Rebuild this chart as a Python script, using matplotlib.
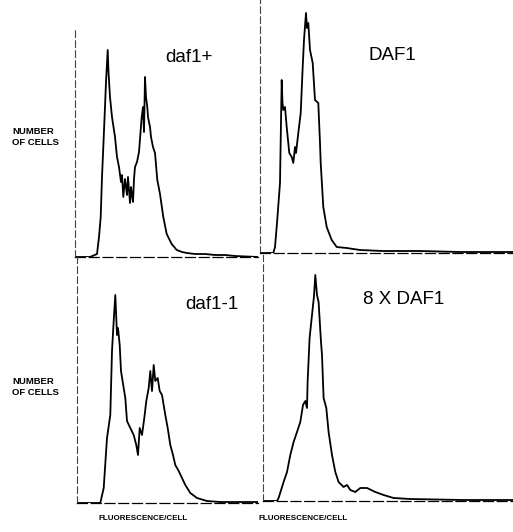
# Flow cytometry histograms: DNA content per cell for four strains

import numpy as np
import matplotlib.pyplot as plt

plt.rcParams['font.family'] = ['Liberation Sans', 'DejaVu Sans']

# channel / number of cells
daf1p_ch = [0, 15, 22, 24, 25.7, 27, 28.3, 30, 31, 32.7, 33.5, 35, 37, 38.5, 40, 42, 44,
            46, 47, 48.3, 50, 51, 52, 53, 55, 56, 57, 58, 59, 60, 62, 64, 65, 66.7,
            68, 69, 70, 71, 72.3, 73, 74, 75, 76, 78, 80, 82.3, 85, 88.3, 91.7, 96.7,
            101.7, 107, 112, 120, 130, 140, 150, 160, 183]
daf1p_n = [0, 0, 3, 20, 40, 80, 110, 150, 175, 207, 185, 160, 140, 130, 120, 100, 90,
           75, 82, 60, 78, 70, 62, 80, 54, 70, 62, 55, 78, 90, 95, 105, 118, 140,
           150, 125, 180, 160, 150, 140, 135, 130, 120, 110, 104, 77, 63, 40, 23, 13,
           7, 5, 4, 3, 3, 2, 2, 1, 0]

DAF1_ch = [0, 13.3, 15, 17, 20, 21.7, 22.5, 23.3, 25, 26.7, 29.3, 31.7, 33.3, 35, 36,
           38.3, 40.7, 42.7, 44, 46, 47, 48.3, 50, 52.7, 55, 58.3, 60, 60.7, 63.3,
           66.7, 71.7, 76.7, 86.7, 100, 123, 160, 200, 253]
DAF1_n = [0, 0, 6, 30, 70, 173, 150, 143, 146, 126, 100, 96, 90, 106, 100,
          120, 140, 186, 213, 240, 225, 230, 203, 190, 153, 150, 110, 90, 46,
          26, 13, 6, 5, 3, 2, 2, 1, 1]

daf11_ch = [0, 23.3, 26.7, 30, 33.3, 35, 36.7, 38.3, 40, 41, 42.7, 44, 46.7, 48.3, 50,
            53.3, 56.7, 59.3, 61, 62.7, 65, 67.3, 69.3, 71.7, 73.3, 75, 76.7, 78.3,
            80.7, 82.7, 85, 88.3, 90.7, 93.3, 96, 98.3, 101.7, 105, 108.3, 113.3,
            120, 130, 143, 181]
daf11_n = [0, 0, 15, 65, 88, 152, 182, 208, 168, 175, 158, 132, 115, 105, 82,
           75, 68, 58, 48, 75, 68, 85, 102, 115, 132, 112, 138, 122,
           125, 112, 108, 88, 75, 58, 48, 38, 32, 25, 18, 10,
           5, 2, 1, 1]

x8DAF1_ch = [0, 14, 15.6, 20.6, 24, 27.3, 30.6, 34, 37.3, 40, 42.3, 44, 44.6, 46.6,
             49, 51, 52.3, 54, 55.6, 58, 59, 60.6, 63.3, 65.6, 69, 72.3, 75.6, 80.6,
             84, 87.3, 92.3, 97.3, 104, 112.3, 120.6, 130.6, 147, 200, 250]
x8DAF1_n = [0, 0, 3, 19, 29, 46, 59, 69, 79, 96, 100, 93, 119, 163,
            186, 205, 226, 206, 199, 159, 146, 103, 93, 69, 46, 29, 19, 14,
            16, 11, 9, 13, 13, 9, 6, 3, 2, 1, 1]

W, H = 513, 532
fig = plt.figure(figsize=(W / 100, H / 100), dpi=100)


def panel(left, top, width, height, ch, n, label, lx, ly):
    ax = fig.add_axes([left / W, 1 - (top + height) / H, width / W, height / H])
    ax.plot(ch, n, color='black', lw=1.3)
    ax.set_xlim(0, width)
    ax.set_ylim(0, height)
    ax.set_xticks([])
    ax.set_yticks([])
    for s in ['top', 'right']:
        ax.spines[s].set_visible(False)
    ax.spines['left'].set_linestyle((0, (6, 3)))
    ax.spines['left'].set_linewidth(0.8)
    ax.spines['left'].set_color('#444444')
    ax.spines['bottom'].set_linestyle((0, (8, 3)))
    ax.spines['bottom'].set_linewidth(0.9)
    ax.patch.set_alpha(0)
    ax.text(lx, ly, label, fontsize=13.5, ha='left', va='center')
    return ax


panel(75, 30, 183, 227, daf1p_ch, daf1p_n, 'daf1+', 90, 199)
panel(260, 0, 253, 253, DAF1_ch, DAF1_n, 'DAF1', 108, 198)
panel(77, 257, 181, 246, daf11_ch, daf11_n, 'daf1-1', 108, 198)
panel(263, 255, 250, 246, x8DAF1_ch, x8DAF1_n, '8 X DAF1', 100, 201)

for y in [137, 387]:
    fig.text(12 / W, 1 - y / H, 'NUMBER\nOF CELLS', fontsize=6.8, fontweight='bold',
             ha='left', va='center', linespacing=1.25)

for x in [143, 303]:
    fig.text(x / W, 1 - 518 / H, 'FLUORESCENCE/CELL', fontsize=5.8, fontweight='bold',
             ha='center', va='center')

fig.savefig('out.png', dpi=100)
